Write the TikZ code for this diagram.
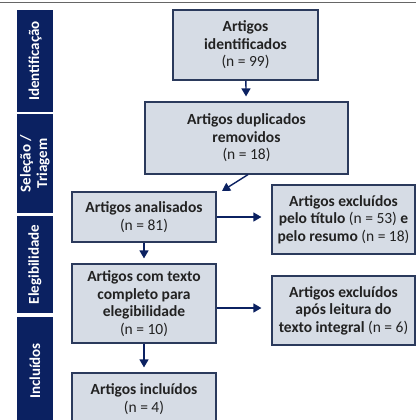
\documentclass[tikz,border=0pt]{standalone}
\usepackage{fontspec}
\setmainfont{Carlito}
\usetikzlibrary{arrows.meta}
\usepackage{xcolor}
\definecolor{navy}{HTML}{0B2161}
\definecolor{boxfill}{HTML}{D6DCE5}
\definecolor{boxline}{HTML}{2B3A5C}
\definecolor{txt}{HTML}{222222}
\newcommand{\ncount}[1]{{\mdseries(n = #1)}}

\begin{document}
\begin{tikzpicture}[x=1pt, y=-1pt,
  stage/.style={fill=navy, text=white, font=\bfseries\fontsize{15}{16.5}\selectfont,
    rotate=90, minimum height=36pt, inner sep=0pt, align=center},
  box/.style={draw=boxline, line width=1.2pt, fill=boxfill, text=txt,
    font=\bfseries\fontsize{15.5}{17.5}\selectfont, align=center, inner sep=0pt},
  arr/.style={-{Triangle[length=8pt,width=9pt]}, line width=1.4pt, draw=navy, shorten >=5pt}
]
\useasboundingbox (0,0) rectangle (416,420);
\draw[line width=1pt, color=gray!80!black] (0,2.5) -- (416,2.5);

% stages
\node[stage, minimum width=102pt] (sid) at (35,61) {Identificação};
\node[stage, minimum width=99pt] (ssel) at (35,163.5) {Seleção /\\Triagem};
\node[stage, minimum width=97pt] (sele) at (35,264.5) {Elegibilidade};
\node[stage, minimum width=108pt] (sinc) at (35,371) {Incluídos};

% boxes
\node[box, minimum width=145pt, minimum height=70pt] (ident) at (245.5,45)
  {Artigos\\identificados\\\ncount{99}};
\node[box, minimum width=203pt, minimum height=72pt] (dupl) at (246.5,138)
  {Artigos duplicados\\removidos\\\ncount{18}};
\node[box, minimum width=144pt, minimum height=50pt] (anal) at (144,217)
  {Artigos analisados\\\ncount{81}};
\node[box, minimum width=143pt, minimum height=69pt] (excl1) at (343.5,219.5)
  {Artigos excluídos\\pelo título \ncount{53} e\\pelo resumo \ncount{18}};
\node[box, minimum width=144pt, minimum height=79pt] (compl) at (144,303.5)
  {Artigos com texto\\completo para\\elegibilidade\\\ncount{10}};
\node[box, minimum width=143pt, minimum height=69pt] (excl2) at (343.5,310.5)
  {Artigos excluídos\\após leitura do\\texto integral \ncount{6}};
\node[box, minimum width=144pt, minimum height=52pt] (incl) at (144,399)
  {Artigos incluídos\\\ncount{4}};

% arrows
\coordinate (diag) at (222,191);
\draw[arr] (ident) -- (dupl);
\draw[arr, shorten >=0pt] ([xshift=1.5pt]dupl.south) -- (diag);
\draw[arr] (anal) -- (compl);
\draw[arr] (compl) -- (incl);
\draw[arr, shorten >=10pt] (anal.east) -- (anal.east -| excl1.west);
\draw[arr, shorten >=10pt] ([yshift=-4.5pt]compl.east) -- ([yshift=-4.5pt]compl.east -| excl2.west);
\end{tikzpicture}
\end{document}
